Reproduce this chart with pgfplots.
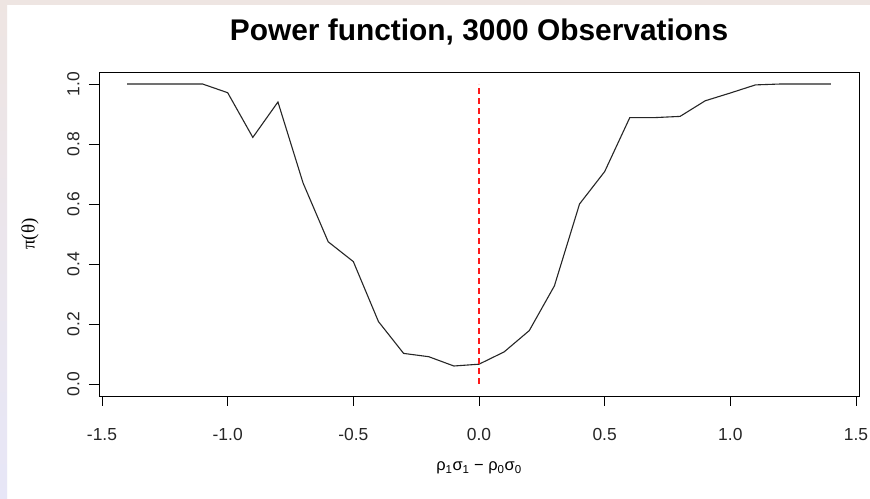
\documentclass[border=0pt]{standalone}
\usepackage{fontspec}
\setmainfont{Liberation Sans}
\newfontfamily\serifgreek{Liberation Serif}
\usepackage{pgfplots}
\pgfplotsset{compat=1.18}
\definecolor{toppink}{HTML}{EEE5E2}
\definecolor{leftlav}{HTML}{E7E6F7}
\begin{document}
\begin{tikzpicture}
\useasboundingbox (0,0) rectangle (870bp,499bp);
\fill[white] (0,0) rectangle (870bp,499bp);
\shade[top color=toppink, bottom color=leftlav] (0,0) rectangle (7bp,499bp);
\fill[toppink] (0,493.5bp) rectangle (870bp,499bp);
\begin{axis}[
  at={(99bp,103bp)}, anchor=south west,
  scale only axis, width=760bp, height=324bp,
  xmin=-1.512, xmax=1.512, ymin=-0.04, ymax=1.04,
  axis line style={black, line width=0.9bp},
  xtick={-1.5,-1,-0.5,0,0.5,1,1.5},
  ytick={0,0.2,0.4,0.6,0.8,1},
  xticklabels={-1.5,-1.0,-0.5,0.0,0.5,1.0,1.5},
  yticklabels={0.0,0.2,0.4,0.6,0.8,1.0},
  tick align=outside, major tick length=10bp,
  tick style={black, line width=0.9bp},
  xtick pos=bottom, ytick pos=left,
  /pgf/number format/assume math mode=true,
  tick label style={font=\fontsize{17.5}{20}\selectfont, text=black!85},
  xticklabel style={anchor=north, yshift=-19bp},
  yticklabel style={rotate=90, anchor=south, yshift=6bp},
  title={Power function, 3000 Observations},
  title style={font=\fontsize{30}{34}\selectfont\bfseries, at={(axis description cs:0.5,1)}, anchor=base, yshift=26bp},
  xlabel={ρ\textsubscript{1}σ\textsubscript{1} − ρ\textsubscript{0}σ\textsubscript{0}},
  xlabel style={font=\fontsize{16.5}{19}\selectfont, at={(axis description cs:0.5,0)}, anchor=center, yshift=-72bp},
  ylabel={\serifgreek π(θ)},
  ylabel style={font=\fontsize{19}{22}\selectfont, at={(axis description cs:0,0.5)}, anchor=center, yshift=69bp},
]
\addplot[black!85, line width=1.1bp] coordinates {
(-1.4,1.0) (-1.3,1.0) (-1.2,1.0) (-1.1,1.0) (-1.0,0.971) (-0.9,0.822)
(-0.8,0.940) (-0.7,0.670) (-0.6,0.474) (-0.5,0.408) (-0.4,0.208)
(-0.3,0.102) (-0.2,0.091) (-0.1,0.060) (0.0,0.066) (0.1,0.107)
(0.2,0.178) (0.3,0.327) (0.4,0.600) (0.5,0.708) (0.6,0.888)
(0.7,0.888) (0.8,0.892) (0.9,0.944) (1.0,0.970) (1.1,0.997)
(1.2,1.0) (1.3,1.0) (1.4,1.0)};
\addplot[red!90!white, line width=1.1bp, dash pattern=on 6bp off 4bp] coordinates {(0,0) (0,1)};
\end{axis}
\end{tikzpicture}
\end{document}
